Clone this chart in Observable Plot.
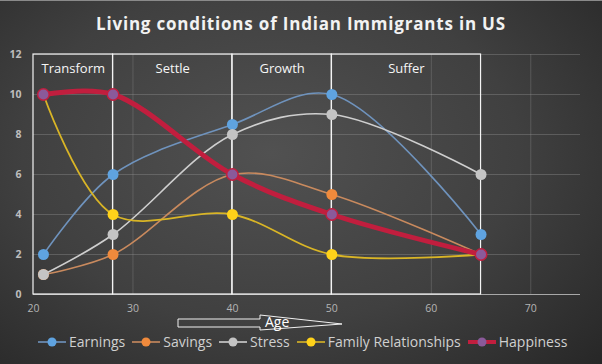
<!DOCTYPE html>
<html>
<head>
<meta charset="utf-8">
<script src="https://cdn.jsdelivr.net/npm/d3@7"></script>
<script src="https://cdn.jsdelivr.net/npm/@observablehq/plot@0.6"></script>
<style>
  html, body { margin: 0; padding: 0; background: #2a2a2a; }
  #chart {
    position: relative; width: 602px; height: 364px; overflow: hidden;
    background: radial-gradient(ellipse 75% 85% at 45% 42%, #515151 0%, #404040 55%, #272727 100%);
    font-family: "Open Sans", sans-serif;
    border-top: 1px solid #8a8a8a; box-sizing: border-box;
  }
  #title {
    position: absolute; top: 11px; left: 0; width: 602px; text-align: center;
    color: #f2f2f2; font-family: "Open Sans", sans-serif; font-weight: 700; font-size: 17px;
    letter-spacing: 0.8px;
  }
  #plot { position: absolute; top: 44px; left: 0; }
  #arrow { position: absolute; top: 310px; left: 170px; }
  #legend {
    position: absolute; top: 331px; left: 37px; display: flex; align-items: center;
    color: #d0d0d0; font-size: 14px; white-space: nowrap;
  }
  .item { display: flex; align-items: center; margin-right: 6px; }
  .item svg { margin-right: 2px; }
</style>
</head>
<body>
<div id="chart">
  <div id="title">Living conditions of Indian Immigrants in US</div>
  <div id="plot"></div>
  <svg id="arrow" width="190" height="30">
    <polygon points="8,8 90,8 90,4 172,13 90,19 90,16 8,16" fill="none" stroke="#f0f0f0" stroke-width="1"/>
    <text x="95" y="16" fill="#ffffff" font-family="Open Sans, sans-serif" font-size="14">Age</text>
  </svg>
  <div id="legend"></div>
</div>
<script>
// ---- data ----
const ages = [21, 28, 40, 50, 65];
const earnings = [2, 6, 8.5, 10, 3];
const savings = [1, 2, 6, 5, 2];
const stress = [1, 3, 8, 9, 6];
const family = [10, 4, 4, 2, 2];
const happiness = [10, 10, 6, 4, 2];
const seriesNames = ["Earnings", "Savings", "Stress", "Family Relationships", "Happiness"];
const phaseNames = ["Transform", "Settle", "Growth", "Suffer"];
const phaseStart = [20, 28, 40, 50];
const phaseEnd = [28, 40, 50, 65];
const xTicks = [20, 30, 40, 50, 60, 70];
const yTicks = [0, 2, 4, 6, 8, 10, 12];

// ---- styles ----
const styles = {
  "Earnings": {line: "#6f93bd", dot: "#5fa3e0", width: 1.6, r: 5.5},
  "Savings": {line: "#c98a5e", dot: "#f08a3c", width: 1.6, r: 5.5},
  "Stress": {line: "#cfcfcf", dot: "#c4c4c4", width: 1.6, r: 5.5},
  "Family Relationships": {line: "#d9b526", dot: "#ffd21a", width: 1.8, r: 5.5},
  "Happiness": {line: "#c11e3e", dot: "#8a5a9a", width: 5, r: 5}
};

const valuesBySeries = [earnings, savings, stress, family, happiness];
const rows = [];
seriesNames.forEach((s, i) => ages.forEach((a, j) => rows.push({series: s, age: a, value: valuesBySeries[i][j]})));
const phases = phaseNames.map((n, i) => ({name: n, start: phaseStart[i], end: phaseEnd[i]}));

const marks = [
  Plot.ruleY(yTicks.slice(1), {x1: 20, x2: 75, stroke: "#9a9a9a", strokeOpacity: 0.35}),
  Plot.ruleX(xTicks.slice(1), {y1: 0, y2: 12, stroke: "#9a9a9a", strokeOpacity: 0.3}),
  Plot.ruleY([0], {x1: 20, x2: 75, stroke: "#a8a8a8", strokeWidth: 1.2}),
  Plot.rect(phases, {x1: "start", x2: "end", y1: 0, y2: 12, stroke: "#f4f4f4", strokeWidth: 1.2, fill: "none"}),
  Plot.text(phases, {x: d => (d.start + d.end) / 2, y: 11.3, text: "name", fill: "#f6f6f6", fontSize: 13, fontFamily: "Open Sans"}),
  Plot.axisX({ticks: xTicks, tickSize: 0, tickPadding: 10, fill: "#b4b4b4", fontSize: 10.5, label: null}),
  Plot.axisY({ticks: yTicks, tickSize: 0, tickPadding: 12, fill: "#bdbdbd", fontSize: 10.5, fontWeight: "bold", label: null})
];
seriesNames.forEach(s => {
  const st = styles[s];
  const data = rows.filter(d => d.series === s);
  marks.push(Plot.line(data, {x: "age", y: "value", stroke: st.line, strokeWidth: st.width, curve: "catmull-rom"}));
  if (s === "Happiness") {
    marks.push(Plot.dot(data, {x: "age", y: "value", r: 6.5, fill: "#c11e3e"}));
  }
  marks.push(Plot.dot(data, {x: "age", y: "value", r: st.r, fill: st.dot}));
});

const chart = Plot.plot({
  width: 602,
  height: 282,
  marginLeft: 33,
  marginRight: 22,
  marginTop: 9,
  marginBottom: 33,
  style: {background: "transparent", fontFamily: "Open Sans, sans-serif", overflow: "visible"},
  x: {domain: [20, 75]},
  y: {domain: [0, 12]},
  marks
});
document.getElementById("plot").appendChild(chart);

// legend
const legend = document.getElementById("legend");
seriesNames.forEach(s => {
  const st = styles[s];
  const item = document.createElement("div");
  item.className = "item";
  const thick = s === "Happiness";
  item.innerHTML = `<svg width="30" height="14"><line x1="1" y1="7" x2="29" y2="7" stroke="${st.line}" stroke-width="${thick ? 4 : 1.6}"/>` +
    `<circle cx="15" cy="7" r="4.5" fill="${st.dot}"/></svg><span>${s}</span>`;
  legend.appendChild(item);
});
</script>
</body>
</html>
